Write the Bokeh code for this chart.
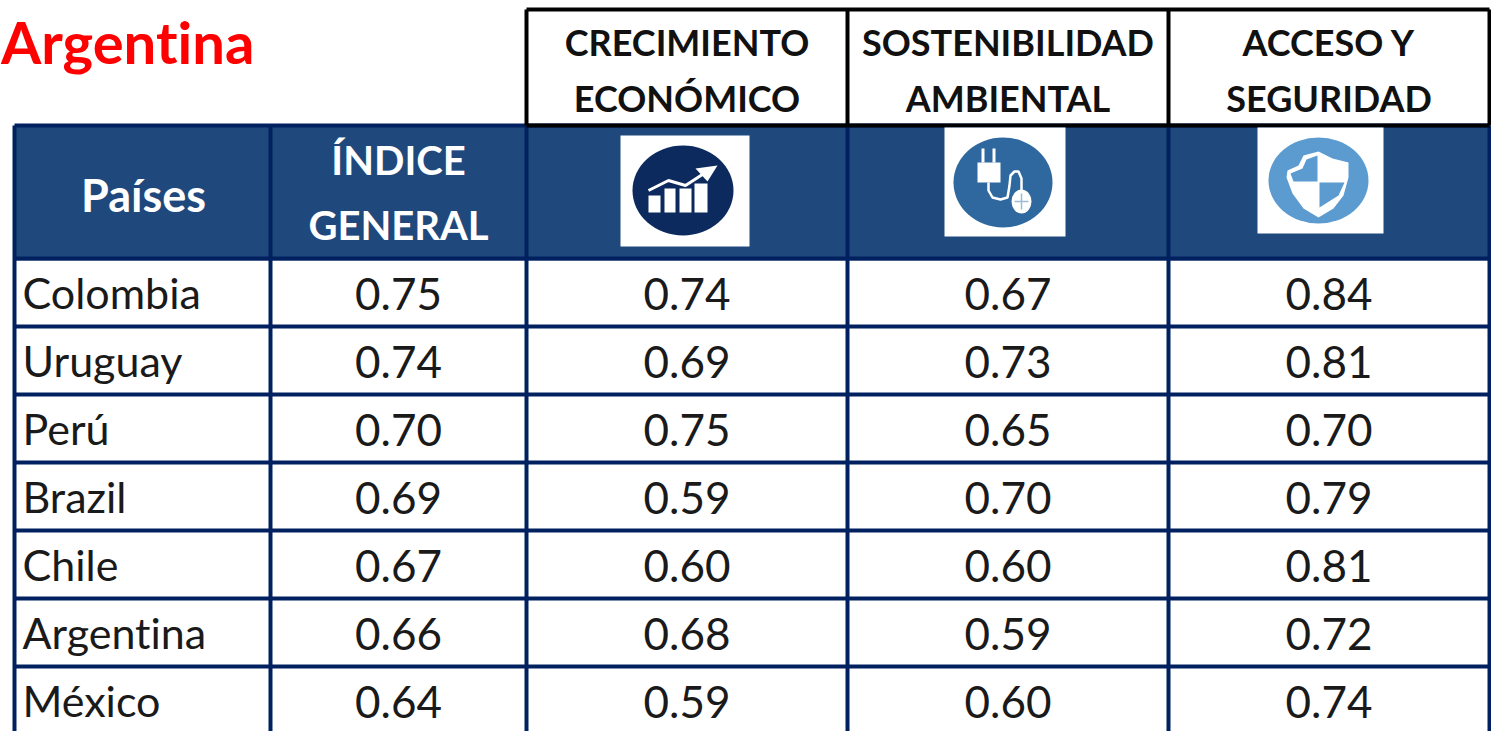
from bokeh.plotting import figure
from bokeh.models import ColumnDataSource
from bokeh.core.properties import value
from bokeh.embed import file_html
from bokeh.resources import INLINE

paises = ["Colombia", "Uruguay", "Perú", "Brazil", "Chile", "Argentina", "México"]
indice = ["0.75", "0.74", "0.70", "0.69", "0.67", "0.66", "0.64"]
crecimiento = ["0.74", "0.69", "0.75", "0.59", "0.60", "0.68", "0.59"]
sostenibilidad = ["0.67", "0.73", "0.65", "0.70", "0.60", "0.59", "0.60"]
acceso = ["0.84", "0.81", "0.70", "0.79", "0.81", "0.72", "0.74"]
titulo = "Argentina"

FONT = value("Lato")
NAVY, HEAD, BLACK = "#002060", "#1F497D", "#000000"
col_edges = [14, 270, 526, 847, 1168, 1489]
row_top, row_h = 258, 68
n_rows = len(paises)
row_edges = [row_top + i * row_h for i in range(n_rows + 1)]
row_mid = [e + 35 for e in row_edges[:-1]]
col_mid = [(a + b) / 2 for a, b in zip(col_edges, col_edges[1:])]

p = figure(width=1491, height=731, x_range=(0, 1491), y_range=(731, 0),
           output_backend="svg", toolbar_location=None, min_border=0,
           margin=0, outline_line_color=None, background_fill_color="white",
           styles={"font-variant-ligatures": "none", "font-feature-settings": '"liga" 0'})
p.axis.visible = False
p.grid.visible = False

# header band and row lines
p.quad(left=[col_edges[0]], right=[col_edges[-1]], top=[125], bottom=[row_top + 2], fill_color=HEAD, line_color=None)
p.segment(x0=[col_edges[0]] * (n_rows + 2), x1=[col_edges[-1]] * (n_rows + 2),
          y0=[125] + row_edges, y1=[125] + row_edges, line_color=NAVY, line_width=4)
p.segment(x0=col_edges, x1=col_edges, y0=[125] * 6, y1=[731] * 6, line_color=NAVY, line_width=4)

# black boxes above
p.segment(x0=col_edges[2:], x1=col_edges[2:], y0=[9] * 4, y1=[125] * 4, line_color=BLACK, line_width=4)
p.segment(x0=[col_edges[2]] * 2, x1=[col_edges[-1]] * 2, y0=[9, 125], y1=[9, 125], line_color=BLACK, line_width=4)

# body text
src = ColumnDataSource(dict(x=col_mid[1:] * n_rows,
                            y=[y for y in row_mid for _ in range(4)],
                            t=[v for row in zip(indice, crecimiento, sostenibilidad, acceso) for v in row]))
p.text("x", "y", text="t", source=src, text_font=FONT, text_font_size="44px", text_color="#1a1a1a",
       text_align="center", text_baseline="middle")
p.text(x=[22] * n_rows, y=[y - 1 for y in row_mid], text=paises, text_font=FONT, text_font_size="43px",
       text_color="#1a1a1a", text_align="left", text_baseline="middle")

# headers
p.text(x=[col_mid[0] + 1], y=[194], text=["Países"], text_font=FONT, text_font_style="bold",
       text_font_size="45px", text_color="white", text_align="center", text_baseline="middle")
p.text(x=[col_mid[1], col_mid[1]], y=[159, 224], text=["ÍNDICE", "GENERAL"],
       text_font=FONT, text_font_style="bold", text_font_size="40px", text_color="white",
       text_align="center", text_baseline="middle")
hx = [col_mid[2], col_mid[2], col_mid[3], col_mid[3], col_mid[4], col_mid[4]]
p.text(x=hx, y=[41, 97] * 3,
       text=["CRECIMIENTO", "ECONÓMICO", "SOSTENIBILIDAD", "AMBIENTAL", "ACCESO Y", "SEGURIDAD"],
       text_font=FONT, text_font_style="bold", text_font_size="36px", text_color="#111111",
       text_align="center", text_baseline="middle")
p.text(x=[0.5], y=[41], text=[titulo], text_font=FONT, text_font_style="bold", text_font_size="58px",
       text_color="#FF0000", text_align="left", text_baseline="middle")

# icon tiles
p.quad(left=[620, 944, 1257], right=[749, 1065, 1383], top=[135, 127, 127], bottom=[246, 236, 233],
       fill_color="white", line_color=None)
p.ellipse(x=[682.5, 1002.5, 1318], y=[190, 182, 180], width=[101, 99, 100], height=[90, 90, 86],
          fill_color=["#0C2A5E", "#2F689F", "#5B9BD0"], line_color=None)

# icon 1: rising bars and arrow
p.quad(left=[648, 664, 679, 694], right=[660, 675, 691, 707], top=[195, 188, 188, 183], bottom=[212] * 4,
       fill_color="white", line_color=None)
p.line(x=[648, 668, 685, 705], y=[190, 180, 185, 172], line_color="white", line_width=3)
p.patch(x=[695, 717, 707], y=[168, 165, 181], fill_color="white", line_color=None)

# icon 2: plug and cord
p.quad(left=[977, 981, 992], right=[1000, 984, 995], top=[162, 148, 148], bottom=[182, 162, 162],
       fill_color="white", line_color=None)
p.line(x=[988, 988, 992, 1000, 1007, 1009, 1010, 1014, 1018, 1021, 1021],
       y=[182, 190, 197, 199, 197, 185, 175, 171, 171, 178, 190], line_color="white", line_width=2.5)
p.ellipse(x=[1021], y=[201], width=[20], height=[24], fill_color="white", line_color=None)
p.line(x=[1014, 1021, 1028], y=[201, 201, 201], line_color="#9DBAD6", line_width=1.5)
p.line(x=[1021, 1021], y=[193, 209], line_color="#9DBAD6", line_width=1.5)

# icon 3: shield
p.patch(x=[1318, 1332, 1348, 1348, 1343, 1333, 1318, 1303, 1292, 1286, 1287, 1298, 1303],
        y=[151, 158, 162, 177, 195, 208, 217, 208, 193, 177, 170, 165, 155], fill_color="white", line_color=None)
p.patch(x=[1317, 1317, 1293, 1290, 1302, 1306], y=[155, 181, 181, 173, 168, 159],
        fill_color="#5B9BD0", line_color=None)
p.patch(x=[1319, 1344, 1338, 1319], y=[182, 182, 195, 207], fill_color="#5B9BD0", line_color=None)

open("out.html", "w").write(file_html(p, INLINE))
